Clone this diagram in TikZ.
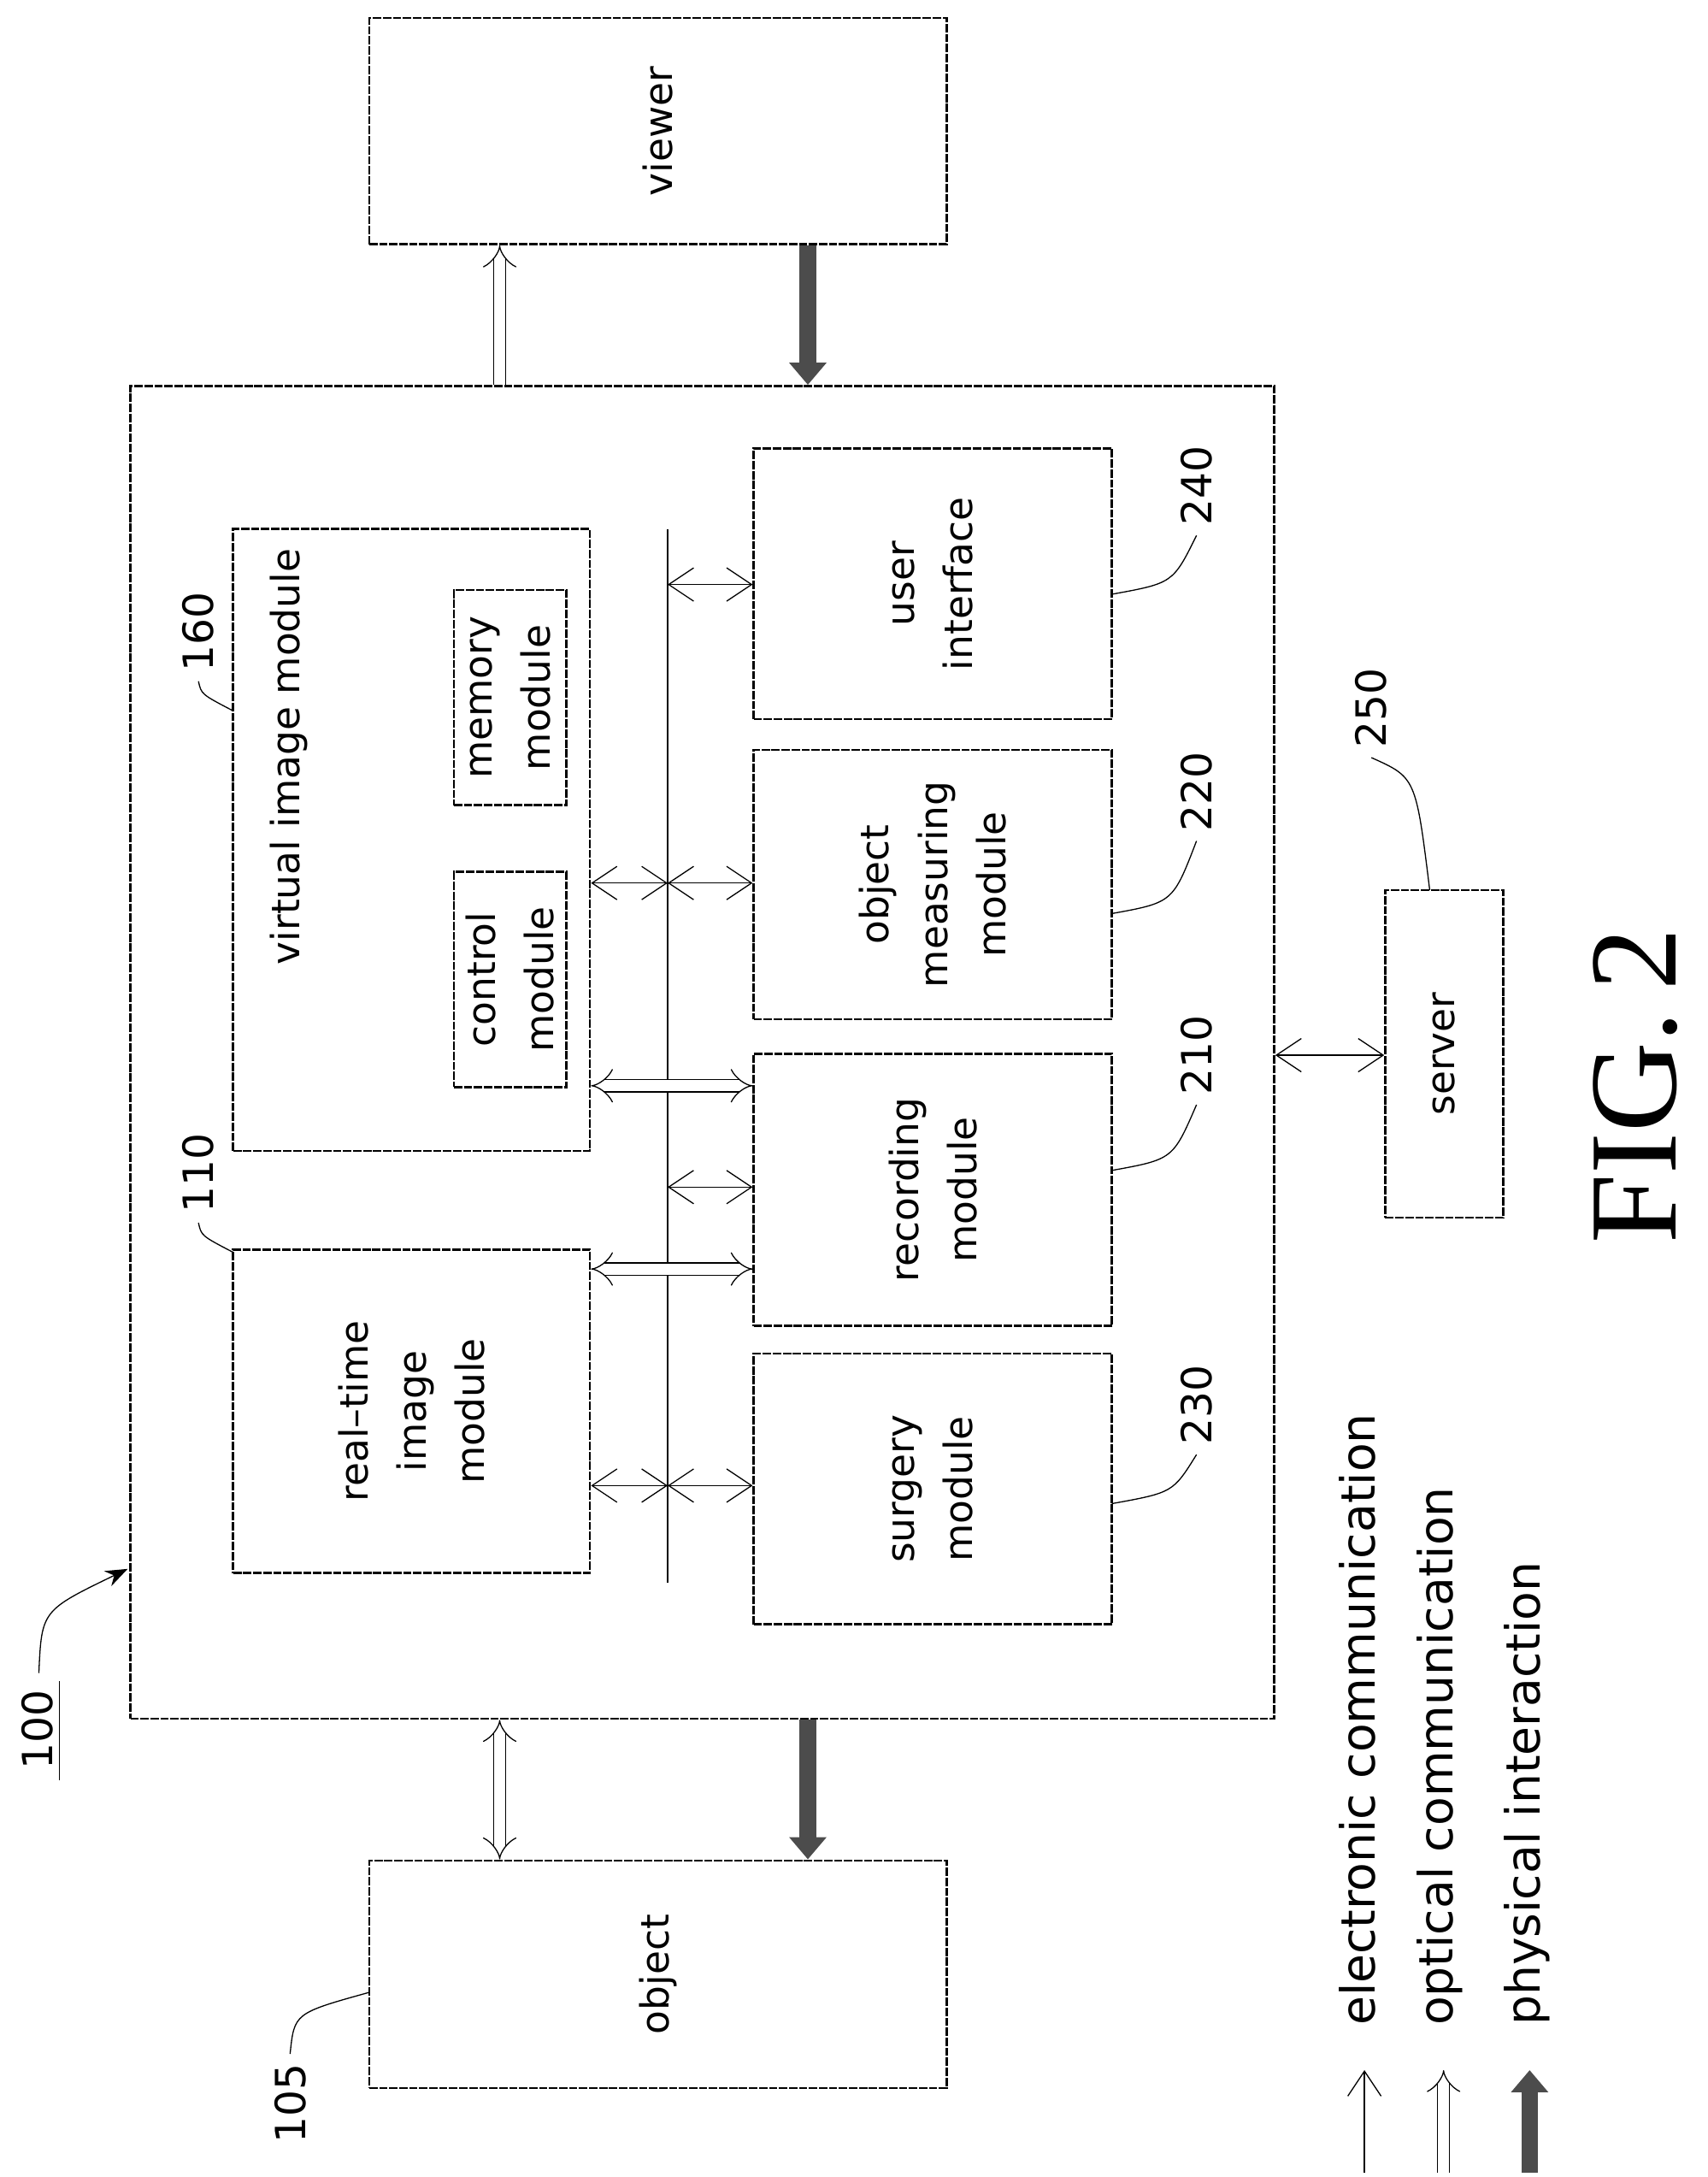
\documentclass[tikz,border=0pt]{standalone}
\usepackage{fontspec}
\setmainfont{DejaVu Sans}
\newfontfamily\figfont{Liberation Serif}
\usetikzlibrary{arrows.meta,fit}
\tikzset{
  box/.style={draw, thick, densely dashed, dash pattern=on 3pt off 0.6pt, inner sep=0pt},
  lbl/.style={rotate=90, align=center, font=\fontsize{14}{21}\selectfont},
  elec/.style={thin, {Straight Barb[length=9pt,width=12pt]}-{Straight Barb[length=9pt,width=12pt]}},
  opt/.style={double, double distance=4pt, thin, -{Implies[length=8pt]}},
  opt2/.style={opt, {Implies[length=8pt]}-{Implies[length=8pt]}},
  phys/.style={line width=6pt, gray!60!black, -{Triangle[length=8pt,width=13pt]}},
  lead/.style={thin},
  num/.style={font=\fontsize{15}{16}\selectfont, rotate=90}
}
\begin{document}
\begin{tikzpicture}[x=0.5pt, y=-0.5pt]
\useasboundingbox (0,0) rectangle (1230,1568);
% outer blocks
\node[box, fit={(266,13)(682,176)}] (viewer) {};
\node[lbl] at (viewer.center) {viewer};
\node[box, fit={(94,278)(918,1238)}] (sys) {};
\node[box, fit={(266,1340)(682,1504)}] (object) {};
\node[lbl] at (object.center) {object};
\node[box, fit={(998,641)(1083,877)}] (server) {};
\node[lbl] at (server.center) {server};
% modules
\node[box, fit={(168,381)(425,829)}] (virt) {};
\node[lbl] at (208,545) {virtual image module};
\node[box, fit={(327,628)(408,783)}] (ctrl) {};
\node[lbl] at (ctrl.center) {control\\module};
\node[box, fit={(327,425)(408,580)}] (mem) {};
\node[lbl] at (mem.center) {memory\\module};
\node[box, fit={(168,900)(425,1133)}] (rt) {};
\node[lbl] at (rt.center) {real--time\\image\\module};
\node[box, fit={(543,323)(801,518)}] (ui) {};
\node[lbl] at (ui.center) {user\\interface};
\node[box, fit={(543,540)(801,734)}] (meas) {};
\node[lbl] at (meas.center) {object\\measuring\\module};
\node[box, fit={(543,759)(801,955)}] (rec) {};
\node[lbl] at (rec.center) {recording\\module};
\node[box, fit={(543,975)(801,1170)}] (surg) {};
\node[lbl] at (surg.center) {surgery\\module};
% bus
\coordinate (bustop) at (481,381);
\coordinate (busbot) at (481,1140);
\draw[thick] (bustop) -- (busbot);
% connectors
\draw[opt] (sys.north -| 360,0) -- (viewer.south -| 360,0);
\draw[phys] (viewer.south -| 582,0) -- (sys.north -| 582,0);
\draw[opt2] (sys.south -| 360,0) -- (object.north -| 360,0);
\draw[phys] (sys.south -| 582,0) -- (object.north -| 582,0);
\draw[elec] (sys.east |- 0,760) -- (server.west |- 0,760);
\draw[elec] (bustop |- 0,421) -- (ui.west |- 0,421);
\draw[elec] (virt.east |- 0,636) -- (bustop |- 0,636);
\draw[elec] (bustop |- 0,636) -- (meas.west |- 0,636);
\draw[opt2] (virt.east |- 0,782) -- (rec.west |- 0,782);
\draw[elec] (bustop |- 0,855) -- (rec.west |- 0,855);
\draw[opt2] (rt.east |- 0,914) -- (rec.west |- 0,914);
\draw[elec] (rt.east |- 0,1070) -- (bustop |- 0,1070);
\draw[elec] (bustop |- 0,1070) -- (surg.west |- 0,1070);
% reference numerals
\node[num] (n160) at (143,455) {160};
\draw[lead] (n160.west) .. controls (145,500) .. (168,512);
\node[num] (n110) at (143,845) {110};
\draw[lead] (n110.west) .. controls (145,890) .. (168,902);
\node[num] (n240) at (862,350) {240};
\draw[lead] (n240.west) .. controls (845,420) .. (801,428);
\node[num] (n220) at (862,570) {220};
\draw[lead] (n220.west) .. controls (845,650) .. (801,658);
\node[num] (n210) at (862,760) {210};
\draw[lead] (n210.west) .. controls (845,835) .. (801,843);
\node[num] (n230) at (862,1012) {230};
\draw[lead] (n230.west) .. controls (845,1075) .. (801,1083);
\node[num] (n250) at (988,510) {250};
\draw[lead] (n250.west) .. controls (1020,560) .. (1030,641);
\node[num] (n100) at (27,1246) {100};
\draw[thin] (43,1211) -- (43,1282);
\draw[lead, -{Stealth[length=8pt]}] (28,1205) .. controls (30,1160) .. (92,1130);
\node[num] (n105) at (209,1515) {105};
\draw[lead] (n105.east) .. controls (212,1450) .. (266,1435);
% legend
\node[num, anchor=west, font=\fontsize{17}{18}\selectfont] (lg1) at (978,1466) {electronic communication};
\draw[-{Straight Barb[length=9pt,width=12pt]}, thin] (983,1565) -- (983,1491);
\node[num, anchor=west, font=\fontsize{17}{18}\selectfont] (lg2) at (1037,1466) {optical communication};
\draw[opt] (1040,1565) -- (1040,1491);
\node[num, anchor=west, font=\fontsize{17}{18}\selectfont] (lg3) at (1100,1466) {physical interaction};
\draw[phys] (1102,1565) -- (1102,1491);
\node[rotate=90, font=\fontsize{45}{50}\selectfont\figfont] (fig) at (1178,782) {FIG.\,2};
\end{tikzpicture}
\end{document}
